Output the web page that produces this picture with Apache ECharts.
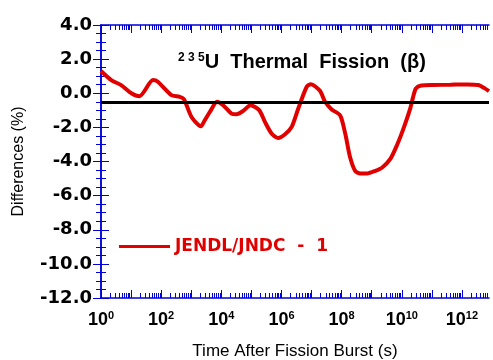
<!DOCTYPE html>
<html>
<head>
<meta charset="utf-8">
<script src="https://cdn.jsdelivr.net/npm/echarts@6/dist/echarts.min.js"></script>
<style>
  html, body { margin: 0; padding: 0; background: #ffffff; }
  #chart { width: 493px; height: 360px; }
</style>
</head>
<body>
<div id="chart"></div>
<script>
// Time after the fission burst, as log10 of seconds
const logTime = [
  0.00, 0.34, 0.67, 1.01, 1.28, 1.73, 1.89, 2.34, 2.62, 2.76,
  3.01, 3.32, 3.45, 3.62, 3.86, 4.06, 4.34, 4.51, 4.73, 4.97,
  5.26, 5.45, 5.67, 5.89, 6.12, 6.34, 6.56, 6.84, 6.98, 7.28,
  7.45, 7.67, 7.95, 8.12, 8.28, 8.45, 8.62, 8.85, 9.12, 9.35,
  9.62, 9.85, 10.05, 10.28, 10.38, 10.47, 10.65, 11.05, 11.62, 12.18,
  12.55, 12.75, 12.90
];
// JENDL/JNDC - 1, beta decay heat difference (%)
const diffPct = [
  1.30, 0.77, 0.48, 0.00, -0.17, 0.77, 0.67, -0.11, -0.21, -0.35,
  -1.39, -1.93, -1.58, -1.09, -0.50, -0.70, -1.19, -1.23, -1.03, -0.70,
  -0.99, -1.68, -2.36, -2.62, -2.40, -1.97, -0.89, 0.38, 0.53, 0.14,
  -0.50, -0.95, -1.29, -2.36, -3.74, -4.55, -4.70, -4.70, -4.55, -4.35,
  -3.85, -3.00, -2.10, -0.90, -0.20, 0.28, 0.45, 0.48, 0.50, 0.52,
  0.48, 0.30, 0.12
];
// Horizontal reference level (%)
const baseline = -0.55;
// Decades carrying a label on the time axis
const labelDecades = [0, 2, 4, 6, 8, 10, 12];
const seriesName = 'JENDL/JNDC  -  1';

const X_MIN = 0, X_MAX = 12.9;
const AXIS_BLUE = '#0000d8';
const RED = '#e00000';

// tick positions along the log-time axis
const majorTicks = [];
for (let n = 0; n <= 12; n++) majorTicks.push(n);
const minorTicks = [];
for (let n = 0; n <= 12; n++) {
  for (let k = 2; k <= 9; k++) {
    const v = n + Math.log10(k);
    if (v <= X_MAX) minorTicks.push(v);
  }
}

function timeAxis(position, withLine, ticks, len, labels) {
  return {
    type: 'value',
    position: position,
    min: X_MIN,
    max: X_MAX,
    axisLine: { show: withLine, onZero: false, lineStyle: { color: AXIS_BLUE, width: 1.5 } },
    axisTick: { show: true, inside: true, length: len, customValues: ticks,
                lineStyle: { color: AXIS_BLUE, width: 1 } },
    splitLine: { show: false },
    axisLabel: labels ? {
      show: true,
      customValues: labelDecades,
      margin: 12,
      hideOverlap: false,
      formatter: v => '{b|10}{s|' + Math.round(v) + '}',
      rich: {
        b: { fontFamily: 'Liberation Sans', fontWeight: 'bold', fontSize: 18, lineHeight: 20, color: '#000' },
        s: { fontFamily: 'Liberation Sans', fontWeight: 'bold', fontSize: 11, lineHeight: 12, color: '#000', verticalAlign: 'top' }
      }
    } : { show: false }
  };
}

function valueAxis(position, labels) {
  return {
    type: 'value',
    position: position,
    min: -12,
    max: 4,
    interval: 2,
    axisLine: { show: true, lineStyle: { color: AXIS_BLUE, width: 1.5 } },
    axisTick: { show: true, inside: true, length: 8, lineStyle: { color: AXIS_BLUE, width: 1 } },
    minorTick: { show: true, splitNumber: 4, length: 5, lineStyle: { color: AXIS_BLUE, width: 1 } },
    splitLine: { show: false },
    minorSplitLine: { show: false },
    axisLabel: labels ? {
      show: true,
      margin: 9,
      padding: [0, 0, 11, 0],
      fontFamily: 'DejaVu Sans',
      fontWeight: 'bold',
      fontSize: 18,
      color: '#000',
      formatter: v => v.toFixed(1)
    } : { show: false },
    name: labels ? 'Differences (%)' : '',
    nameLocation: 'middle',
    nameRotate: 90,
    nameGap: 74,
    nameTextStyle: { fontFamily: 'Liberation Sans', fontSize: 16, color: '#000' }
  };
}

const bottomMajor = timeAxis('bottom', true, majorTicks, 8, true);
bottomMajor.name = 'Time After Fission Burst (s)';
bottomMajor.nameLocation = 'middle';
bottomMajor.nameGap = 45;
bottomMajor.nameTextStyle = { fontFamily: 'Liberation Sans', fontSize: 17, color: '#000' };

const chart = echarts.init(document.getElementById('chart'), null, { renderer: 'canvas' });
chart.setOption({
  animation: false,
  backgroundColor: '#ffffff',
  grid: { left: 101, right: 4, top: 25, bottom: 62, containLabel: false, outerBoundsMode: 'none' },
  title: {
    left: 178,
    top: 52,
    padding: 0,
    text: '{s|2 3 5}{m|U  Thermal  Fission  (\u03b2)}',
    textStyle: {
      rich: {
        s: { fontFamily: 'Liberation Sans', fontWeight: 'bold', fontSize: 12, lineHeight: 12, color: '#000', verticalAlign: 'top' },
        m: { fontFamily: 'Liberation Sans', fontWeight: 'bold', fontSize: 20, lineHeight: 21, color: '#000' }
      }
    }
  },
  legend: {
    left: 119,
    top: 238,
    padding: 0,
    itemWidth: 51,
    itemHeight: 3,
    icon: 'rect',
    data: [seriesName],
    textStyle: { fontFamily: 'DejaVu Sans', fontWeight: 'bold', fontSize: 17, color: RED }
  },
  xAxis: [
    bottomMajor,
    timeAxis('bottom', false, minorTicks, 5, false),
    timeAxis('top', true, majorTicks, 8, false),
    timeAxis('top', false, minorTicks, 5, false)
  ],
  yAxis: [
    valueAxis('left', true),
    valueAxis('right', false)
  ],
  series: [{
    name: seriesName,
    type: 'line',
    xAxisIndex: 0,
    yAxisIndex: 0,
    data: logTime.map((t, i) => [t, diffPct[i]]),
    smooth: 0.25,
    showSymbol: false,
    clip: true,
    itemStyle: { color: RED },
    lineStyle: { color: RED, width: 4 },
    markLine: {
      silent: true,
      symbol: 'none',
      label: { show: false },
      lineStyle: { color: '#000', width: 3, type: 'solid' },
      data: [{ yAxis: baseline }]
    }
  }]
});
</script>
</body>
</html>
